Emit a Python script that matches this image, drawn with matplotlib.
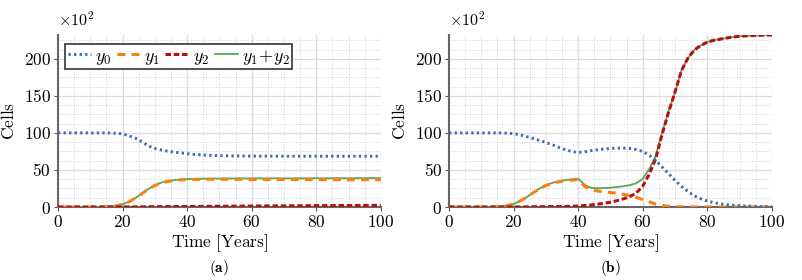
import matplotlib
matplotlib.use("Agg")
import numpy as np
import matplotlib.pyplot as plt
from matplotlib.ticker import MultipleLocator, FuncFormatter

plt.rcParams['mathtext.fontset'] = 'cm'
plt.rcParams['font.family'] = 'serif'

# time grid (years), step 2
t = list(range(0, 101, 2))

# panel (a): values in units of 10^2 cells
y0_a = [100, 100, 100, 100, 100, 100, 100, 100, 100, 99.5,
        98.8, 96, 93, 88, 82.5, 79, 77, 75.3, 74, 73,
        72, 71, 70.5, 70, 69.6, 69.3, 69.1, 69, 68.9, 68.8,
        68.7, 68.7, 68.6, 68.6, 68.6, 68.5, 68.5, 68.5, 68.5, 68.5,
        68.5, 68.5, 68.5, 68.5, 68.5, 68.5, 68.5, 68.5, 68.5, 68.5,
        68.5]
y1_a = [0, 0, 0, 0, 0, 0, 0, 0.2, 0.6, 1.5,
        3.5, 7, 12, 18, 24, 29, 32.5, 34.5, 35.8, 36.5,
        37, 37.2, 37.3, 37.4, 37.4, 37.4, 37.4, 37.4, 37.4, 37.3,
        37.3, 37.3, 37.2, 37.2, 37.2, 37.1, 37.1, 37.1, 37.0, 37.0,
        37.0, 36.9, 36.9, 36.9, 36.9, 36.8, 36.8, 36.8, 36.8, 36.8,
        36.8]
y2_a = [0, 0, 0, 0, 0, 0, 0, 0, 0.05, 0.08,
        0.1, 0.15, 0.2, 0.25, 0.3, 0.4, 0.45, 0.5, 0.6, 0.65,
        0.7, 0.75, 0.8, 0.9, 0.95, 1.0, 1.05, 1.1, 1.15, 1.25,
        1.3, 1.35, 1.4, 1.45, 1.5, 1.5, 1.6, 1.65, 1.7, 1.75,
        1.8, 1.85, 1.9, 1.95, 2.0, 2.0, 2.05, 2.1, 2.15, 2.2,
        2.2]

# panel (b)
y0_b = [100, 100, 100, 100, 100, 100, 100, 100, 100, 99.6,
        99, 97.5, 95, 92.5, 90, 87, 84, 80.5, 77.5, 75,
        73.5, 74.5, 76, 77.2, 78.2, 79, 79.5, 79.5, 79, 77.5,
        75, 70, 63, 54, 45, 36, 28, 21, 15, 11,
        8, 6, 4.3, 3.2, 2.4, 1.8, 1.3, 1.0, 0.7, 0.5,
        0.4]
y1_b = [0, 0, 0, 0, 0, 0, 0, 0.2, 0.7, 1.8,
        4, 8, 13, 19, 24.5, 29, 32, 34, 35.5, 36.3,
        37, 28, 23, 21.5, 20.5, 19.5, 18.5, 17, 15.5, 13,
        10, 7, 4, 2, 1, 0.4, 0.2, 0.1, 0.05, 0,
        0, 0, 0, 0, 0, 0, 0, 0, 0, 0,
        0]
y2_b = [0, 0, 0, 0, 0, 0, 0, 0, 0, 0,
        0, 0.1, 0.2, 0.3, 0.4, 0.5, 0.6, 0.7, 0.8, 1.0,
        1.3, 2, 2.8, 3.8, 5, 6.5, 8.5, 11, 14, 19,
        28, 44, 65, 98, 128, 155, 184, 201, 212, 218,
        222.5, 225, 226.5, 228, 229.5, 230.3, 231, 231.4, 231.7, 232,
        232]

panels = [(y0_a, y1_a, y2_a, '(a)'), (y0_b, y1_b, y2_b, '(b)')]

c_blue = '#3a6fae'
c_orange = '#ff7f0e'
c_red = '#b80f0f'
c_green = '#5aa55a'

fig = plt.figure(figsize=(8.02, 2.8), dpi=100)
lefts = [0.0723, 0.5599]

for i, (y0, y1, y2, tag) in enumerate(panels):
    ax = fig.add_axes([lefts[i], 0.2607, 0.4025, 0.614])
    ysum = np.array(y1) + np.array(y2)
    ax.plot(t, ysum, color=c_green, lw=1.3, zorder=3, label=r'$y_1\!+\!y_2$')
    ax.plot(t, y1, color=c_orange, lw=2.2, dashes=(2.6, 2.0), zorder=4, label=r'$y_1$')
    ax.plot(t, y2, color=c_red, lw=2.2, dashes=(1.8, 0.9), zorder=5, label=r'$y_2$')
    ax.plot(t, y0, color=c_blue, lw=2.1, dashes=(0.8, 1.1), zorder=6, label=r'$y_0$')

    ax.set_xlim(0, 100)
    ax.set_ylim(0, 232)
    ax.xaxis.set_major_locator(MultipleLocator(20))
    ax.xaxis.set_minor_locator(MultipleLocator(5))
    ax.yaxis.set_major_locator(MultipleLocator(50))
    ax.yaxis.set_minor_locator(MultipleLocator(12.5))
    fmt = FuncFormatter(lambda v, p: r'$%g$' % v)
    ax.xaxis.set_major_formatter(fmt)
    ax.yaxis.set_major_formatter(fmt)
    ax.tick_params(which='major', length=3, width=0.8, color='#555555', labelsize=12.5, pad=2)
    ax.tick_params(which='minor', length=0)
    ax.grid(which='major', color='#dcdcdc', lw=0.9)
    ax.grid(which='minor', color='#c4c4c4', lw=0.6, ls=(0, (1, 2)))
    ax.set_axisbelow(True)
    for s in ['top', 'right']:
        ax.spines[s].set_visible(False)
    for s in ['left', 'bottom']:
        ax.spines[s].set_color('#666666')
        ax.spines[s].set_linewidth(1.5)

    ax.set_xlabel(r'$\mathrm{Time\ [Years]}$', fontsize=12.5, labelpad=1)
    ax.set_ylabel(r'$\mathrm{Cells}$', fontsize=12.5, labelpad=4)
    ax.text(0.0, 1.03, r'$\times10^2$', transform=ax.transAxes, fontsize=11.5,
            ha='left', va='bottom')
    ax.text(0.5, -0.355, r'$\mathbf{' + tag + '}$', transform=ax.transAxes,
            fontsize=11, ha='center', va='center')

    if i == 0:
        h, l = ax.get_legend_handles_labels()
        order = [3, 1, 2, 0]
        leg = ax.legend([h[k] for k in order], [l[k] for k in order],
                        loc='upper left', ncol=4, fontsize=13, frameon=True,
                        fancybox=False, borderpad=0.15, handlelength=1.3,
                        handletextpad=0.2, columnspacing=0.3,
                        bbox_to_anchor=(0.01, 0.97), borderaxespad=0.2)
        leg.get_frame().set_edgecolor('#444444')
        leg.get_frame().set_linewidth(1.3)
        leg.get_frame().set_alpha(1)

fig.savefig('out.png', dpi=100)
